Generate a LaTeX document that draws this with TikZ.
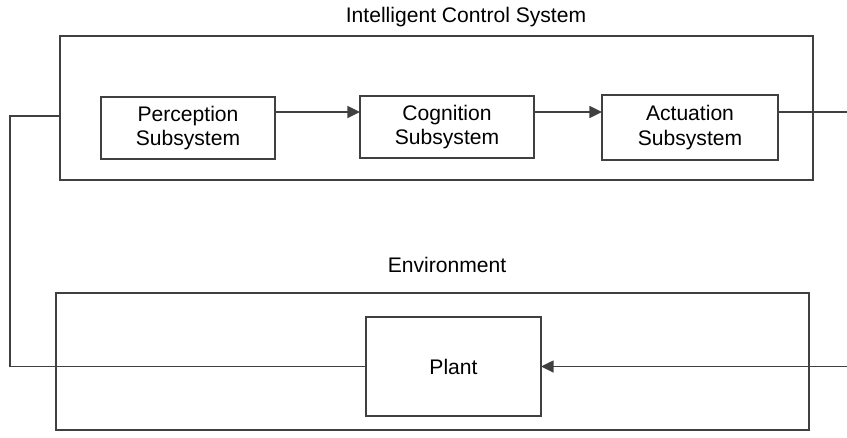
\documentclass[tikz,border=0pt]{standalone}
\usepackage{fontspec}
\setmainfont{Liberation Sans}
\usetikzlibrary{arrows.meta}

\begin{document}
\begin{tikzpicture}[x=0.03cm, y=-0.03cm,
  linie/.style={line width=1.3pt, draw=black!75},
  rahmen/.style={linie, inner sep=0pt, outer sep=0pt},
  block/.style={rahmen, align=center, font=\fontsize{18}{21}\selectfont},
  titel/.style={font=\fontsize{18}{21}\selectfont},
  pfeil/.style={linie, -{Triangle[length=0.38cm,width=0.36cm]}}]
  \useasboundingbox (0,0) rectangle (847,437);

  % Regelsystem
  \node[rahmen, minimum width=22.59cm, minimum height=4.32cm] (ics) at (436.5,108) {};
  \node[titel] (icslabel) at (466,17) {Intelligent Control System};
  \node[block, minimum width=5.22cm, minimum height=1.86cm] (perc) at (188,128) {Perception\\Subsystem};
  \node[block, minimum width=5.22cm, minimum height=1.86cm] (cogn) at (447,127) {Cognition\\Subsystem};
  \node[block, minimum width=5.28cm, minimum height=1.95cm] (actu) at (690,127.5) {Actuation\\Subsystem};

  % Umgebung
  \node[rahmen, minimum width=22.59cm, minimum height=4.11cm] (env) at (432.5,361.5) {};
  \node[titel] (envlabel) at (447,265) {Environment};
  \node[block, minimum width=5.25cm, minimum height=2.97cm] (plant) at (453.5,366.5) {Plant};

  % Signale
  \coordinate (sig) at (0,112);
  \coordinate (out) at (847,112);
  \coordinate (in) at (847,366.5);
  \coordinate (fb) at (10,116);
  \draw[pfeil] (perc.east |- sig) -- (cogn.west |- sig);
  \draw[pfeil] (cogn.east |- sig) -- (actu.west |- sig);
  \draw[linie] (actu.east |- sig) -- (out);
  \draw[pfeil] (in) -- (plant.east);

  % Rueckfuehrung
  \draw[linie] (plant.west) -| (fb) -- (ics.west |- fb);
\end{tikzpicture}
\end{document}
